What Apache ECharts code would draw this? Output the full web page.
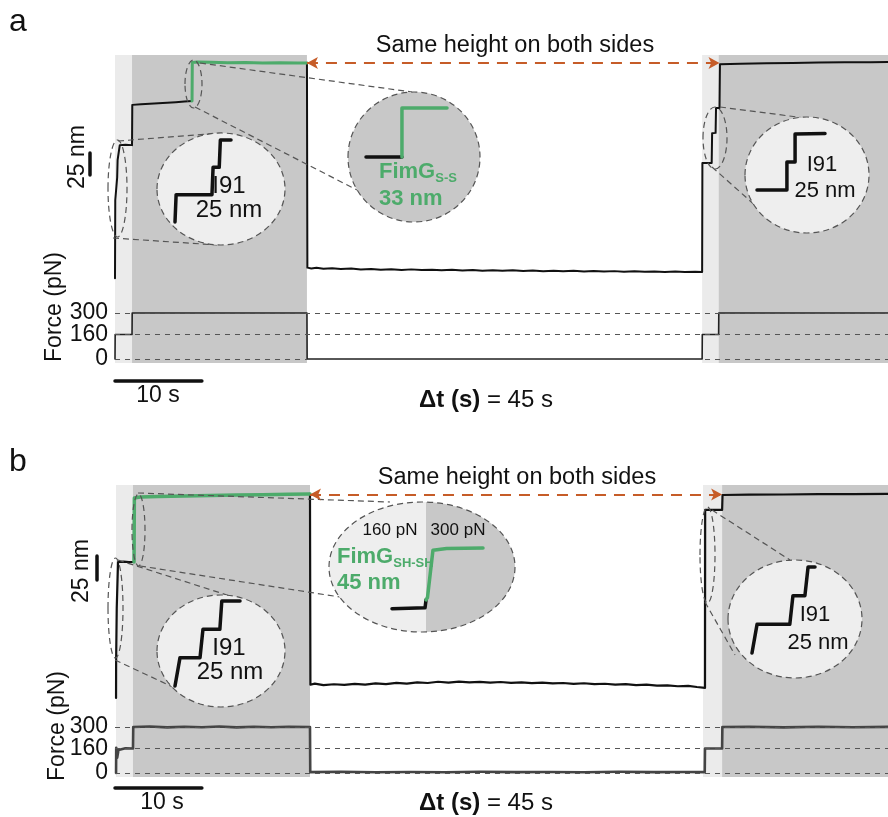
<!DOCTYPE html>
<html>
<head>
<meta charset="utf-8">
<script src="https://cdn.jsdelivr.net/npm/echarts@6/dist/echarts.min.js"></script>
<style>
  html, body { margin: 0; padding: 0; background: #fff; }
  #chart { width: 888px; height: 817px; }
</style>
</head>
<body>
<div id="chart"></div>
<script>
// ---------- data ----------
const T_MAX = 89;                 // time window shown (s)
const forceLevels = [0, 160, 300]; // pN
const scaleBarNm = 25;
const scaleBarS = 10;

// Panel a: force-protocol intervals (s)
const aLow = [[0, 1.96], [67.6, 69.5]];      // 160 pN
const aHigh = [[1.96, 22.1], [69.5, 89]];    // 300 pN
// Panel a: extension (s, nm)
const aExtBefore = [[0,25],[0.03,114],[0.22,114],[0.25,140],[0.3,160],[0.5,160],[0.55,177],[1.2,177.4],[1.96,177],[1.99,223],[3,223.6],[4,224.2],[5,224.8],[6,225.3],[7,226],[8,226.8],[8.87,227.4]];
const aExtFimG = [[8.87,227.4],[8.9,271.5],[9.5,272],[11,271.6],[13,271.2],[15,271.4],[17,270.9],[19,271.1],[21,270.8],[22.1,270.9]];
const aExtAfter = [[22.1,270.9],[22.15,37],[22.6,36.1],[23.2,36.9],[24,35.7],[25,36.2],[26,35.4],[27.2,35.9],[28.3,34.9],[29.5,35.5],[30.6,34.6],[31.8,35.1],[33,34.4],[34.1,35],[35.3,34.2],[36.5,34.7],[37.6,33.9],[38.8,34.5],[40,33.8],[41.2,34.3],[42.3,33.5],[43.5,34.1],[44.6,33.4],[45.8,33.9],[47,33.1],[48.1,33.7],[49.3,32.9],[50.5,33.5],[51.6,32.8],[52.8,33.3],[54,32.6],[55.1,33.2],[56.3,32.5],[57.5,33],[58.6,32.3],[59.8,32.9],[61,32.2],[62.1,32.7],[63.3,32.1],[64.5,32.6],[65.6,31.9],[66.8,32.4],[67.6,32],[67.63,156.6],[68.7,156.6],[68.75,190.5],[69.15,191],[69.2,219.4],[69.6,219.4],[69.65,269.5],[72,270],[75,270.6],[78,270.9],[81,271.3],[84,271.6],[87,271.8],[89,272]];
const aForce = [[0,0],[0.02,160],[1.96,160],[1.98,300],[22.1,300],[22.12,0],[67.6,0],[67.62,160],[69.5,160],[69.52,300],[89,300]];
const aPlateau = [[22.1, 271], [69.6, 271]];
// Panel a: zoomed insets (relative time, nm)
const aIn1 = [[0,0],[0.02,25],[0.66,25],[0.68,50],[0.79,50],[0.81,75],[1,75]];
const aIn2Black = [[0,0],[0.444,0]];
const aIn2Green = [[0.444,0],[0.444,33],[1,33]];
const aIn3 = [[0,0],[0.44,0],[0.44,25],[0.56,25],[0.56,50],[1,50.5]];

// Panel b: force-protocol intervals (s)
const bLow = [[0.12, 2.07], [67.7, 69.9]];
const bHigh = [[2.07, 22.45], [69.9, 89]];
// Panel b: extension (s, nm)
const bExtBefore = [[0.12,16.7],[0.13,56],[0.2,110],[0.35,158.3],[1,158.6],[1.6,158.2],[2.19,158.3]];
const bExtFimG = [[2.19,158.3],[2.23,225],[2.9,226],[5,226.5],[8,227],[11,227.6],[14,228],[17,228.4],[20,228.8],[22.45,229.2]];
const bExtAfter = [[22.45,229.2],[22.5,30.5],[23,31.6],[24,30.1],[25.2,31],[26.4,30.3],[27.6,31.4],[28.8,30.6],[30,31.9],[31.2,31.1],[32.4,32.4],[33.6,31.6],[34.8,33],[36,32.3],[37.2,33.6],[38.4,32.7],[39.6,33.8],[40.8,32.9],[42,33.5],[43.2,32.6],[44.4,33.3],[45.6,32.4],[46.8,32.9],[48,32.1],[49.2,32.7],[50.4,31.8],[51.6,32.3],[52.8,31.4],[54,32],[55.2,31.1],[56.4,31.5],[57.6,30.6],[58.8,31.1],[60,30.1],[61.2,30.5],[62.4,29.6],[63.6,29.9],[64.8,28.9],[66,29.2],[67,28.1],[67.93,27.3],[67.95,212.5],[69.9,212.5],[69.95,228.1],[73,228.4],[77,228.6],[81,228.9],[85,229.1],[89,229.3]];
const bForce = [[0.12,0],[0.14,165],[0.25,100],[0.4,150],[0.55,158],[1.2,161],[2.07,160],[2.1,300],[4,303],[6,298],[8,302],[10,299],[12,303],[14,298],[16,302],[18,299],[20,302],[22.45,300],[22.48,6],[26,8],[30,5],[34,7],[38,5],[42,8],[46,6],[50,7],[54,5],[58,8],[62,6],[66,7],[67.9,6],[67.93,160],[69.9,160],[69.93,300],[73,302],[77,298],[81,302],[85,299],[89,301]];
const bPlateau = [[22.45, 228.6], [69.9, 228.6]];
// Panel b: zoomed insets
const bIn1 = [[0,0],[0.077,25],[0.385,25],[0.43,50],[0.69,50],[0.72,75],[1,75]];
const bIn2Black = [[0,-7.8],[0.363,-7],[0.374,0]];
const bIn2Green = [[0.374,0],[0.39,2],[0.45,43],[0.6,44.5],[1,45]];
const bIn3 = [[0,0],[0.08,25],[0.6,25],[0.65,50],[0.84,50],[0.89,75],[1,75]];

// ---------- styling ----------
const FONT = '"Liberation Sans", Arial, Helvetica, sans-serif';
const LIGHT = '#ebebeb';
const DARK = '#c8c8c8';
const GREEN = '#4dab6b';
const BLACK = '#111';
const ARROW = '#c65c28';
const DASH_GRAY = '#555';

// ---------- layout ----------
const grids = [
  {left:115, top:55,  width:773, height:245}, // 0 a extension
  {left:115, top:300, width:773, height:63},  // 1 a force
  {left:80,  top:55,  width:20,  height:245}, // 2 a nm scale bar
  {left:115, top:372, width:773, height:18},  // 3 a time scale bar
  {left:175, top:140, width:56,  height:82},  // 4 a inset I91 (left)
  {left:366, top:108, width:81,  height:49},  // 5 a inset FimG
  {left:757, top:134, width:68,  height:56},  // 6 a inset I91 (right)
  {left:115, top:485, width:773, height:229}, // 7 b extension
  {left:115, top:714, width:773, height:63},  // 8 b force
  {left:87,  top:485, width:20,  height:229}, // 9 b nm scale bar
  {left:115, top:779, width:773, height:18},  // 10 b time scale bar
  {left:175, top:601, width:65,  height:85},  // 11 b inset I91 (left)
  {left:392, top:548, width:91,  height:61},  // 12 b inset FimG
  {left:752, top:567, width:63,  height:86}   // 13 b inset I91 (right)
];
const xRanges = [[0,T_MAX],[0,T_MAX],[-1,1],[0,T_MAX],[0,1],[0,1],[0,1],[0,T_MAX],[0,T_MAX],[-1,1],[0,T_MAX],[0,1],[0,1],[0,1]];
const yRanges = [[0,280],[-26,385],[0,280],[-1,1],[0,75],[0,33],[0,50],[0,238.5],[-26,385],[0,238.5],[-1,1],[0,75],[-8,45],[0,75]];

const xAxis = xRanges.map((r, i) => ({type:'value', gridIndex:i, min:r[0], max:r[1], show:false}));
const yAxis = yRanges.map((r, i) => ({type:'value', gridIndex:i, min:r[0], max:r[1], show:false}));

function shade(gi, low, high) {
  const areas = [];
  low.forEach(r => areas.push([{xAxis:r[0], itemStyle:{color:LIGHT}}, {xAxis:r[1]}]));
  high.forEach(r => areas.push([{xAxis:r[0], itemStyle:{color:DARK}}, {xAxis:r[1]}]));
  return {type:'line', xAxisIndex:gi, yAxisIndex:gi, data:[[0,0]], symbol:'none',
    lineStyle:{width:0, opacity:0}, z:1, silent:true,
    markArea:{silent:true, data:areas}};
}
function trace(gi, data, color, width, z) {
  return {type:'line', xAxisIndex:gi, yAxisIndex:gi, data, symbol:'none', clip:false,
    lineStyle:{color, width, join:'round', cap:'round'}, z: z || 3, silent:true};
}
// force trace with dashed reference levels, each labelled with its value
function forceTrace(gi, data, color, width) {
  const s = trace(gi, data, color, width, 3);
  s.markLine = {silent:true, symbol:'none',
    label:{show:true, position:'start', distance:7, formatter:'{c}',
      fontSize:23, fontFamily:FONT, color:BLACK},
    lineStyle:{type:[5,5], color:DASH_GRAY, width:1},
    data: forceLevels.map(v => ({yAxis:v}))};
  return s;
}
function plateauArrow(gi, pts) {
  return {type:'line', xAxisIndex:gi, yAxisIndex:gi, data:[], z:4, silent:true,
    markLine:{silent:true, symbol:['arrow','arrow'], symbolSize:[9,11], label:{show:false},
      lineStyle:{type:[11,8], color:ARROW, width:2},
      data:[[{coord:pts[0]}, {coord:pts[1]}]]}};
}
function vBar(gi, start) {
  return trace(gi, [[0,start],[0,start+scaleBarNm]], BLACK, 3.5, 3);
}
function hBar(gi) {
  return trace(gi, [[0,0],[scaleBarS,0]], BLACK, 3.5, 3);
}

const series = [
  shade(0, aLow, aHigh), shade(1, aLow, aHigh),
  trace(0, aExtBefore, BLACK, 2), trace(0, aExtAfter, BLACK, 2), trace(0, aExtFimG, GREEN, 3),
  plateauArrow(0, aPlateau),
  forceTrace(1, aForce, '#222', 1.6),
  vBar(2, 143), hBar(3),
  trace(4, aIn1, BLACK, 3.5, 8),
  trace(5, aIn2Black, BLACK, 3.5, 8), trace(5, aIn2Green, GREEN, 3.5, 8),
  trace(6, aIn3, BLACK, 3.5, 8),

  shade(7, bLow, bHigh), shade(8, bLow, bHigh),
  trace(7, bExtBefore, BLACK, 2.2), trace(7, bExtAfter, BLACK, 2.2), trace(7, bExtFimG, GREEN, 3.5),
  plateauArrow(7, bPlateau),
  forceTrace(8, bForce, '#444', 2.6),
  vBar(9, 139.6), hBar(10),
  trace(11, bIn1, BLACK, 3.5, 8),
  trace(12, bIn2Black, BLACK, 3.5, 8), trace(12, bIn2Green, GREEN, 3.5, 8),
  trace(13, bIn3, BLACK, 3.5, 8)
];

// ---------- annotations ----------
const dashStyle = {stroke:DASH_GRAY, lineWidth:1.2, lineDash:[6,4]};
function ell(cx, cy, rx, ry, fill, z) {
  return {type:'ellipse', shape:{cx, cy, rx, ry}, z: z || 6, silent:true,
    style:Object.assign({fill: fill || 'none'}, dashStyle)};
}
function seg(x1, y1, x2, y2) {
  return {type:'line', shape:{x1, y1, x2, y2}, z:5, silent:true, style:Object.assign({}, dashStyle)};
}
function label(x, y, text, o) {
  o = o || {};
  const align = o.align || 'center';
  return {type:'text', x, y, z:12, silent:true, rotation:o.rot || 0,
    style:{text, fontSize:o.size || 23, fontFamily:FONT, fontWeight:o.weight || 'normal',
      fill:o.color || BLACK, align, verticalAlign:'middle', textAlign:align, textVerticalAlign:'middle',
      rich:o.rich}};
}
const splitFill = {type:'linear', x:0, y:0, x2:1, y2:0, colorStops:[
  {offset:0, color:'#eeeeee'}, {offset:0.52, color:'#eeeeee'},
  {offset:0.52, color:DARK}, {offset:1, color:DARK}]};
const fimRich = {
  m:{fontSize:22, fontWeight:'bold', fontFamily:FONT, fill:GREEN, color:GREEN, lineHeight:26},
  s:{fontSize:13, fontWeight:'bold', fontFamily:FONT, fill:GREEN, color:GREEN, verticalAlign:'bottom', lineHeight:26}
};
const dtRich = {b:{fontSize:24, fontWeight:'bold', fontFamily:FONT, fill:BLACK, color:BLACK}};

const graphic = [
  // panel a
  label(18, 22, 'a', {size:32}),
  label(515, 46, 'Same height on both sides', {size:23.5}),
  label(78, 157, '25 nm', {rot:Math.PI/2}),
  label(55, 307, 'Force (pN)', {rot:Math.PI/2}),
  label(158, 396, '10 s'),
  label(486, 400, '{b|Δt (s)} = 45 s', {size:24, rich:dtRich}),
  ell(117.5, 188.5, 9.5, 48.5, null, 5),
  ell(193.5, 84, 8.5, 24, null, 5),
  ell(715, 138, 12, 31, null, 5),
  seg(118, 141, 222, 133), seg(113, 238, 217, 245),
  seg(200, 63, 412, 92), seg(195, 107, 357, 190),
  seg(720, 107, 805, 118), seg(712, 167, 757, 207),
  ell(221, 189, 64, 56, '#eeeeee'),
  ell(414, 157, 66, 65, DARK),
  ell(807, 175, 62, 58, '#eeeeee'),
  label(229, 186, 'I91', {size:24}),
  label(229, 210, '25 nm', {size:24}),
  label(379, 172, '{m|FimG}{s|S-S}', {align:'left', color:GREEN, rich:fimRich}),
  label(379, 199, '33 nm', {align:'left', size:22, weight:'bold', color:GREEN}),
  label(822, 165, 'I91', {size:22}),
  label(825, 191, '25 nm', {size:22}),

  // panel b
  label(18, 462, 'b', {size:32}),
  label(517, 478, 'Same height on both sides', {size:23.5}),
  label(82, 571, '25 nm', {rot:Math.PI/2}),
  label(58, 726, 'Force (pN)', {rot:Math.PI/2}),
  label(162, 803, '10 s'),
  label(486, 803, '{b|Δt (s)} = 45 s', {size:24, rich:dtRich}),
  ell(115.5, 608, 7.5, 50, null, 5),
  ell(138.5, 530, 6.5, 36, null, 5),
  ell(707.5, 555, 7.5, 48, null, 5),
  seg(118, 560, 230, 596), seg(115, 660, 175, 688),
  seg(138, 493, 390, 502), seg(140, 566, 340, 597),
  seg(712, 510, 790, 560), seg(705, 602, 735, 655),
  ell(221, 651, 64, 56, '#eeeeee'),
  ell(422, 567, 93, 65, splitFill),
  ell(795, 619, 67, 59, '#eeeeee'),
  label(229, 648, 'I91', {size:24}),
  label(230, 672, '25 nm', {size:24}),
  label(390, 530, '160 pN', {size:17}),
  label(458, 530, '300 pN', {size:17}),
  label(337, 557, '{m|FimG}{s|SH-SH}', {align:'left', color:GREEN, rich:fimRich}),
  label(337, 583, '45 nm', {align:'left', size:22, weight:'bold', color:GREEN}),
  label(815, 615, 'I91', {size:22}),
  label(818, 643, '25 nm', {size:22})
];

const chart = echarts.init(document.getElementById('chart'), null, {renderer:'canvas'});
chart.setOption({
  animation:false,
  backgroundColor:'#ffffff',
  textStyle:{fontFamily:FONT},
  grid:grids,
  xAxis, yAxis, series, graphic
});
</script>
</body>
</html>
